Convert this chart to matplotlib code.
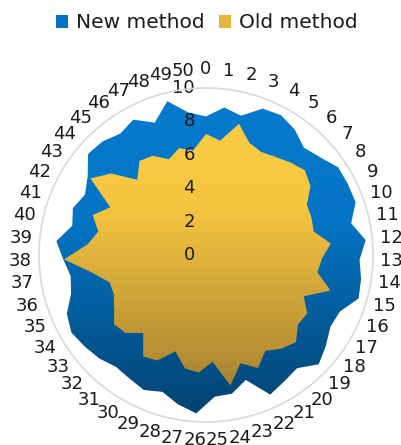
import numpy as np
import matplotlib
matplotlib.use("Agg")
import matplotlib.pyplot as plt
from matplotlib.colors import LinearSegmentedColormap
from matplotlib.patches import Patch
from matplotlib.transforms import ScaledTranslation

categories = [str(i) for i in range(51)]
new_method = [8.3, 8.9, 8.6, 9.4, 9.5, 9.2, 8.7, 9.0, 9.5, 9.5,
              9.5, 8.9, 9.6, 9.2, 9.4, 9.5, 8.7, 8.6, 9.0, 9.4,
              8.7, 8.9, 9.2, 7.85, 8.45, 8.5, 9.5, 9.1, 8.6, 8.9,
              8.7, 8.6, 8.9, 9.1, 9.3, 9.05, 8.4, 8.2, 8.55, 9.0,
              8.2, 8.45, 8.1, 8.5, 9.3, 9.2, 8.9, 9.2, 8.5, 9.5,
              8.6]
old_method = [7.25, 6.9, 8.1, 7.2, 7.0, 7.2, 7.5, 7.8, 7.5, 6.75,
              6.7, 6.6, 7.5, 6.95, 6.75, 7.75, 6.35, 7.0, 6.9, 7.5,
              7.2, 6.75, 7.45, 6.8, 7.95, 6.4, 7.05, 6.9, 6.05, 6.95,
              7.15, 6.0, 6.7, 6.9, 6.35, 6.0, 6.0, 6.9, 8.5, 7.1,
              6.6, 7.2, 6.4, 8.3, 7.5, 6.1, 6.9, 6.75, 6.15, 6.6,
              6.3]
series_names = ["New method", "Old method"]
r_ticks = [0, 2, 4, 6, 8, 10]

blue_cmap = LinearSegmentedColormap.from_list(
    "blue", [(0.0, "#077bd0"), (0.4, "#0474c4"), (1.0, "#03416e")])
yellow_cmap = LinearSegmentedColormap.from_list(
    "yellow", [(0.0, "#fbcd46"), (0.35, "#f6c640"), (1.0, "#9a7630")])

fig = plt.figure(figsize=(4.02, 4.45), dpi=100)
rect = [39 / 402, 23 / 445, 334 / 402, 334 / 445]

gax = fig.add_axes(rect, zorder=0)
gax.set_axis_off()
gax.set_xlim(0, 1)
gax.set_ylim(0, 1)

ax = fig.add_axes(rect, projection="polar", zorder=1)
ax.set_facecolor("none")
ax.set_theta_offset(np.pi / 2)
ax.set_theta_direction(-1)
n = len(categories)
theta = np.arange(n) * 2 * np.pi / n
ax.set_ylim(0, 10)
ax.set_xticks(theta)
ax.set_xticklabels(categories, fontsize=13, color="#1a1a1a")
ax.set_yticks(r_ticks)
ax.set_yticklabels([str(v) for v in r_ticks], fontsize=13, color="#1a1a1a")
ax.set_rlabel_position(0)
ax.grid(False)
ax.spines["polar"].set_color("#d9d9d9")
ax.spines["polar"].set_linewidth(1.2)
ax.tick_params(axis="x", pad=6.5, length=0)
ax.tick_params(axis="y", length=0)

polys = []
for vals in (new_method, old_method):
    p, = ax.fill(theta, vals, facecolor="none", edgecolor="none")
    polys.append(p)

grad = np.linspace(0, 1, 256).reshape(-1, 1)
for poly, cmap in zip(polys, (blue_cmap, yellow_cmap)):
    im = gax.imshow(grad, cmap=cmap, extent=[0, 1, 0, 1], aspect="auto",
                    origin="upper", interpolation="bilinear")
    im.set_clip_path(poly)

off = ScaledTranslation(-0.11, 0, fig.dpi_scale_trans)
for lab in ax.get_yticklabels():
    lab.set_ha("right")
    lab.set_va("center")
    lab.set_transform(lab.get_transform() + off)

handles = [Patch(facecolor="#0672c2"), Patch(facecolor="#e4b63c")]
fig.legend(handles, series_names, loc="center",
           bbox_to_anchor=(207 / 402, 1 - 23 / 445), ncol=2, frameon=False,
           fontsize=14.5, handlelength=0.6, handleheight=0.6,
           handletextpad=0.4, columnspacing=0.7, borderaxespad=0,
           labelcolor="#1a1a1a")

fig.savefig("out.png", dpi=100)
